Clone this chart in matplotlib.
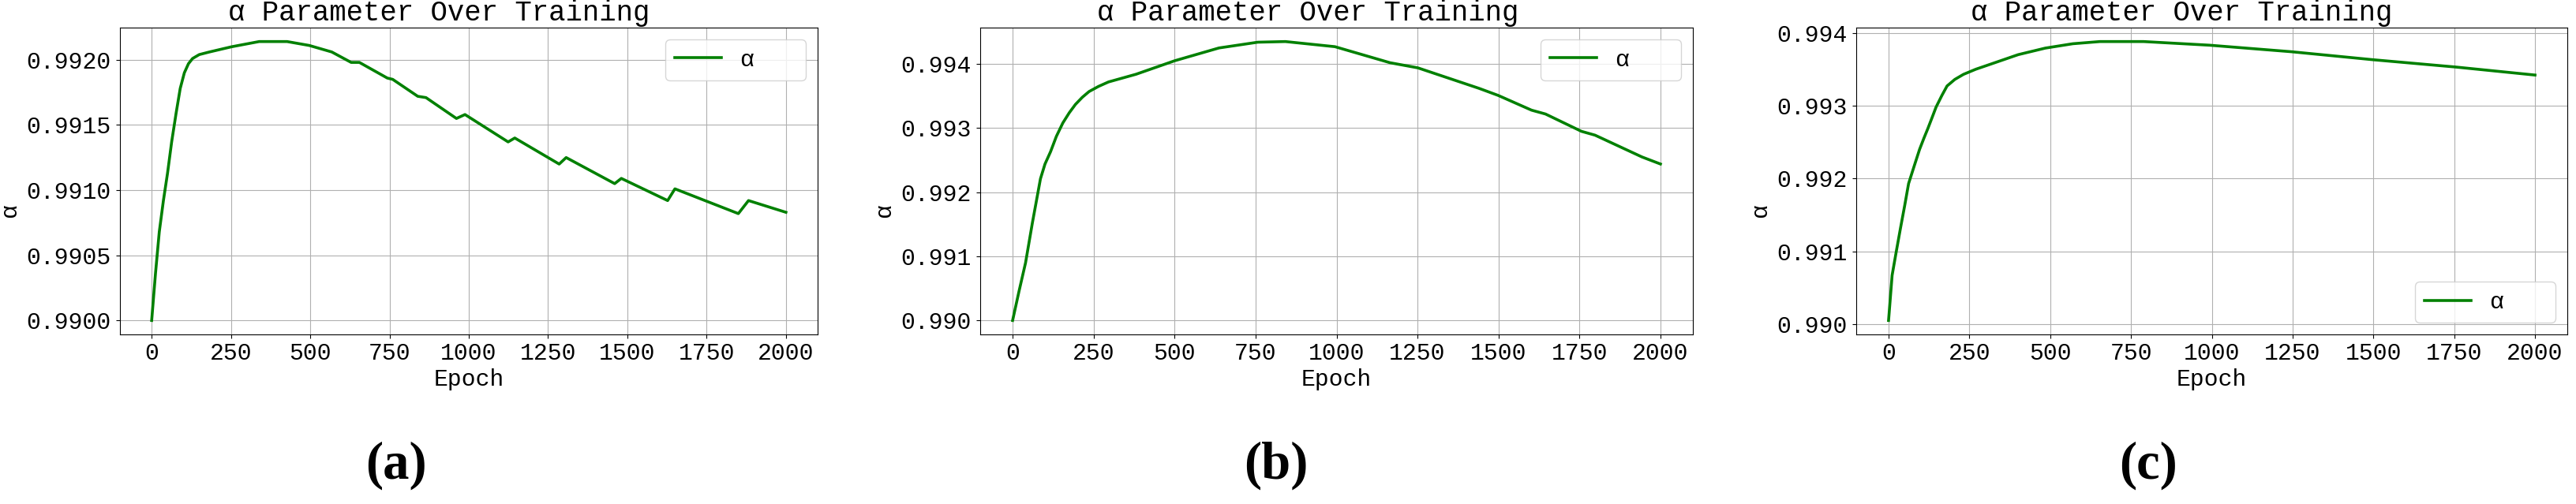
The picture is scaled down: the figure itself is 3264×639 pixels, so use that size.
import numpy as np
import matplotlib
matplotlib.use("Agg")
import matplotlib.pyplot as plt

# 读取自图像的数据 (epoch, alpha)
epochs_a = [0, 12, 24, 37, 50, 63, 77, 90, 103, 116, 129, 150, 182, 252, 339,
            427, 497, 568, 629, 655, 743, 760, 839, 865, 961, 988, 1124, 1145,
            1285, 1307, 1460, 1481, 1627, 1650, 1850, 1882, 2000]
alpha_a = [0.99000, 0.99036, 0.99068, 0.99092, 0.99113, 0.99137, 0.99159,
           0.99178, 0.99190, 0.99197, 0.99201, 0.99204, 0.99206, 0.99210,
           0.99214, 0.99214, 0.99211, 0.99206, 0.99198, 0.99198, 0.99186,
           0.99185, 0.99172, 0.99171, 0.99155, 0.99158, 0.99137, 0.99140,
           0.99120, 0.99125, 0.99105, 0.99109, 0.99092, 0.99101, 0.99082,
           0.99092, 0.99083]

epochs_b = [0, 20, 40, 61, 86, 100, 117, 135, 155, 175, 194, 215, 236, 265,
            296, 381, 500, 637, 757, 842, 995, 1165, 1251, 1440, 1499, 1602,
            1645, 1756, 1798, 1943, 2000]
alpha_b = [0.99000, 0.99046, 0.99090, 0.99152, 0.99221, 0.99244, 0.99263,
           0.99287, 0.99308, 0.99324, 0.99337, 0.99348, 0.99357, 0.99365,
           0.99372, 0.99384, 0.99405, 0.99425, 0.99434, 0.99435, 0.99427,
           0.99402, 0.99394, 0.99362, 0.99351, 0.99328, 0.99322, 0.99295,
           0.99289, 0.99255, 0.99244]

epochs_c = [0, 11, 24, 37, 50, 62, 80, 96, 110, 122, 135, 147, 165, 181, 205,
            232, 270, 316, 401, 485, 570, 654, 789, 993, 1247, 1500, 1755, 2000]
alpha_c = [0.99005, 0.99067, 0.99100, 0.99132, 0.99163, 0.99193, 0.99218,
           0.99240, 0.99256, 0.99269, 0.99284, 0.99298, 0.99314, 0.99327,
           0.99336, 0.99343, 0.99350, 0.99357, 0.99370, 0.99379, 0.99385,
           0.99388, 0.99388, 0.99383, 0.99374, 0.99363, 0.99353, 0.99342]

panel_labels = ['(a)', '(b)', '(c)']
title = 'α Parameter Over Training'

plt.rcParams['font.family'] = ['Liberation Mono', 'DejaVu Sans Mono']
plt.rcParams['font.size'] = 21.4

fig = plt.figure(figsize=(32.64, 6.39), dpi=100)

W, H = 3264, 639
# 每个子图: (左, 右, 标题x, ylabel x(像素), 图例位置, 子图标签中心x)
layout = [
    (152, 1036, 0.457, 26, 'upper right', 502),
    (1242, 2145, 0.460, 1134, 'upper right', 1617),
    (2352, 3253, 0.458, 2244, 'lower right', 2722),
]
series = [(epochs_a, alpha_a), (epochs_b, alpha_b), (epochs_c, alpha_c)]

for (left, right, tx, yl, loc, lx), (ep, al), lab in zip(layout, series, panel_labels):
    ax = fig.add_axes([left / W, (H - 424) / H, (right - left) / W, 389 / H])
    ax.plot(ep, al, color='green', linewidth=2.6, label='α   ')
    ax.set_xticks(np.arange(0, 2001, 250))
    ax.set_xlabel('Epoch', labelpad=4)
    ax.set_ylabel('α')
    ax.yaxis.set_label_coords((yl - left) / (right - left), 0.404)
    ax.set_title(title, x=tx, pad=6.5)
    ax.grid(True, color='#b0b0b0', linewidth=0.8)
    ax.tick_params(axis='y', pad=5)
    ax.legend(loc=loc, borderaxespad=0.5)
    fig.text(lx / W, (H - 590) / H, lab, ha='center', va='center',
             family=['Liberation Serif', 'DejaVu Serif'], fontweight='bold',
             fontsize=48)

fig.savefig('out.png', dpi=100)
